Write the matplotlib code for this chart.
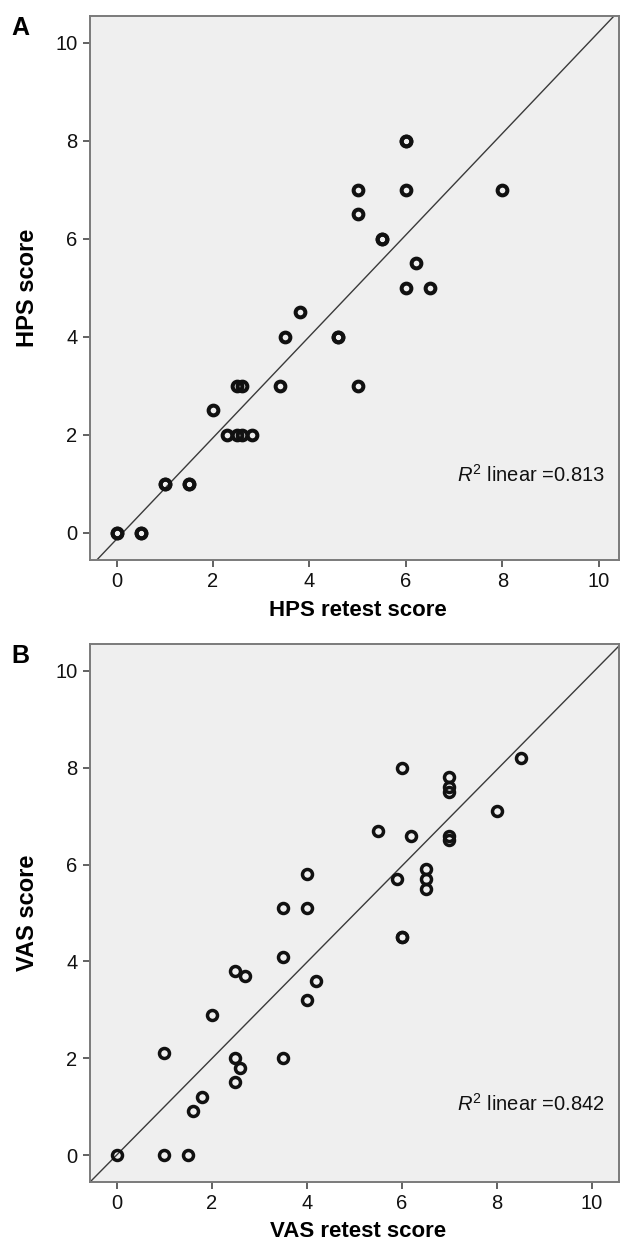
import matplotlib
matplotlib.use("Agg")
import matplotlib.pyplot as plt

plt.rcParams['font.family'] = ['Liberation Sans', 'DejaVu Sans']
plt.rcParams['mathtext.fontset'] = 'custom'
plt.rcParams['mathtext.rm'] = 'Liberation Sans'
plt.rcParams['mathtext.it'] = 'Liberation Sans:italic'

# panel A: HPS (bold markers in the picture are listed twice)
hps_retest = [6, 6, 5, 6, 8, 5, 5.5, 5.5, 6.2, 6, 6.5,
              3.8, 3.5, 4.6, 4.6, 2.5, 2.6, 3.4, 5, 2,
              2.3, 2.5, 2.6, 2.8, 1, 1, 1.5, 1.5, 0, 0, 0.5, 0.5]
hps_score = [8, 8, 7, 7, 7, 6.5, 6, 6, 5.5, 5, 5,
             4.5, 4, 4, 4, 3, 3, 3, 3, 2.5,
             2, 2, 2, 2, 1, 1, 1, 1, 0, 0, 0, 0]
hps_fit = [1.035, -0.127]   # slope, intercept
hps_r2 = 0.813

# panel B: VAS
vas_retest = [8.5, 6, 7, 7, 7, 8, 5.5, 6.2, 7, 7,
              6.5, 6.5, 6.5, 5.9, 4, 3.5, 4, 6, 6,
              3.5, 2.5, 2.7, 4.2, 4, 2, 1, 2.5, 3.5,
              2.6, 2.5, 1.8, 1.6, 0, 1, 1.5]
vas_score = [8.2, 8, 7.8, 7.6, 7.5, 7.1, 6.7, 6.6, 6.6, 6.5,
             5.9, 5.7, 5.5, 5.7, 5.8, 5.1, 5.1, 4.5, 4.5,
             4.1, 3.8, 3.7, 3.6, 3.2, 2.9, 2.1, 2.0, 2.0,
             1.8, 1.5, 1.2, 0.9, 0, 0, 0]
vas_fit = [0.995, 0.0]
vas_r2 = 0.842

ticks = [0, 2, 4, 6, 8, 10]
bg = '#efefef'
frame = '#7a7a7a'

fig = plt.figure(figsize=(6.2, 12.41), dpi=100)
ax_a = fig.add_axes([0.1452, 0.5488, 0.8532, 0.4383])
ax_b = fig.add_axes([0.1452, 0.0478, 0.8532, 0.4330])

panels = [
    (ax_a, hps_retest, hps_score, hps_fit, hps_r2, 'HPS', (-0.55, 10.42), 0.144, 'A', 0.9871, 7.0, 2.9),
    (ax_b, vas_retest, vas_score, vas_fit, vas_r2, 'VAS', (-0.56, 10.57), 0.1316, 'B', 0.4808, 7.2, 2.5),
]

for ax, xs, ys, fit, r2, name, xlim, r2y, letter, top, ms, mew in panels:
    ax.set_facecolor(bg)
    ax.axline((0, fit[1]), slope=fit[0], color='#3a3a3a', lw=1.0, zorder=2)
    ax.plot(xs, ys, 'o', ls='none', ms=ms, mew=mew, mec='#111111', mfc='none', zorder=3)
    ax.set_xlim(*xlim)
    ax.set_ylim(-0.55, 10.55)
    ax.set_xticks(ticks)
    ax.set_yticks(ticks)
    for side in ['top', 'right', 'bottom', 'left']:
        ax.spines[side].set_color(frame)
        ax.spines[side].set_linewidth(1.4)
    ax.tick_params(axis='both', direction='out', length=5, width=1.3, color='#555555',
                   labelsize=14.5, pad=4, labelcolor='#111111')
    ax.set_xlabel(name + ' retest score', fontsize=16, fontweight='bold', va='baseline')
    ax.xaxis.set_label_coords(0.507, -0.103)
    ax.set_ylabel(name + ' score', fontsize=17, fontweight='bold')
    ax.yaxis.set_label_coords(-0.097, 0.5)
    ax.text(0.9735, r2y, r'$R^{\mathrm{2}}$ linear =%.3f' % r2, transform=ax.transAxes,
            ha='right', va='baseline', fontsize=14.5, color='#111111')
    fig.text(0.019, top, letter, fontsize=18, fontweight='bold', va='top', ha='left')

fig.savefig('out.png', dpi=100)
